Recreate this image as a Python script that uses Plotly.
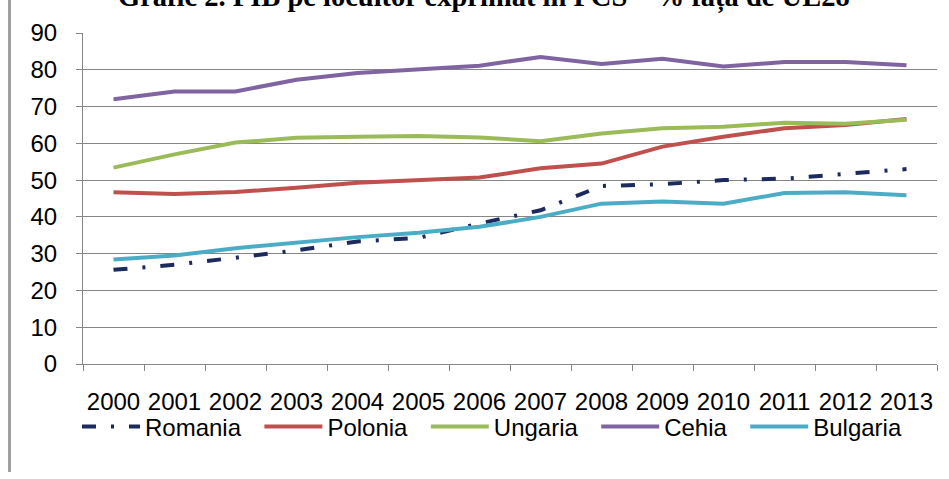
import plotly.graph_objects as go

years = ["2000", "2001", "2002", "2003", "2004", "2005", "2006",
         "2007", "2008", "2009", "2010", "2011", "2012", "2013"]

romania = [25.6, 27.0, 28.9, 30.9, 33.3, 34.3, 38.2, 41.8, 48.4, 48.9, 50.0, 50.4, 51.7, 53.0]
polonia = [46.7, 46.2, 46.8, 47.9, 49.3, 50.0, 50.7, 53.2, 54.5, 59.1, 61.8, 64.1, 65.0, 66.6]
ungaria = [53.4, 57.0, 60.2, 61.5, 61.8, 62.0, 61.6, 60.6, 62.7, 64.1, 64.5, 65.6, 65.3, 66.4]
cehia = [72.0, 74.1, 74.1, 77.3, 79.1, 80.2, 81.1, 83.5, 81.6, 83.0, 80.9, 82.1, 82.1, 81.2]
bulgaria = [28.4, 29.5, 31.5, 33.1, 34.5, 35.7, 37.3, 40.0, 43.6, 44.2, 43.6, 46.5, 46.7, 45.9]

y_ticks = [0, 10, 20, 30, 40, 50, 60, 70, 80, 90]
title_text = "Grafic 2. PIB pe locuitor exprimat în PCS – % fața de UE28"

series = [
    ("Romania", romania, "#1C2A5E", "14px,15px,3px,15px"),
    ("Polonia", polonia, "#C0504D", "solid"),
    ("Ungaria", ungaria, "#9BBB59", "solid"),
    ("Cehia", cehia, "#8064A2", "solid"),
    ("Bulgaria", bulgaria, "#4BACC6", "solid"),
]

fig = go.Figure()
for name, vals, color, dash in series:
    fig.add_trace(go.Scatter(
        x=years, y=vals, name=name + "\u00a0\u00a0", mode="lines",
        line=dict(color=color, width=4, dash=dash),
    ))

font_family = "Liberation Sans, Arial, sans-serif"
grid_col = "#868686"

fig.update_layout(
    width=949, height=479,
    margin=dict(l=83, r=12, t=33, b=115, autoexpand=False),
    paper_bgcolor="white", plot_bgcolor="white",
    font=dict(family=font_family, size=24, color="#000000"),
    showlegend=True,
    legend=dict(
        orientation="h", x=(89 - 12 - 83) / 854, xanchor="left", y=-0.19, yanchor="middle",
        font=dict(family=font_family, size=24, color="#000000"),
        itemwidth=58, tracegroupgap=0, bgcolor="rgba(0,0,0,0)",
    ),
    xaxis=dict(
        type="category", range=[-0.5, 13.5], automargin=False,
        showgrid=False, showline=True, linecolor=grid_col, linewidth=1,
        ticks="outside", tickson="boundaries", ticklen=6, tickcolor=grid_col,
        ticklabelstandoff=16, tickfont=dict(size=24), tickangle=0,
        zeroline=False, fixedrange=True,
    ),
    yaxis=dict(
        range=[0, 90], tickvals=y_ticks, automargin=False,
        showgrid=True, gridcolor=grid_col, gridwidth=1,
        showline=True, linecolor=grid_col, linewidth=1,
        ticks="outside", ticklen=6, tickcolor=grid_col,
        ticklabelstandoff=14, tickfont=dict(size=24),
        zeroline=False, fixedrange=True,
    ),
    annotations=[dict(
        text="<b>" + title_text + "</b>", xref="paper", yref="paper",
        x=(484 - 83) / 854, y=1.05, xanchor="center", yanchor="bottom",
        showarrow=False,
        font=dict(family="Liberation Serif, Times New Roman, serif", size=28.5, color="#000000"),
    )],
    shapes=[dict(
        type="line", xref="paper", yref="paper",
        x0=(9.5 - 83) / 854, x1=(9.5 - 83) / 854,
        y0=(364 - 472) / 331, y1=(364 + 5) / 331,
        line=dict(color="#A0A0A0", width=3),
    )],
)

fig.write_html("out.html", config={"displayModeBar": False},
               post_script="document.body.style.margin='0';")
